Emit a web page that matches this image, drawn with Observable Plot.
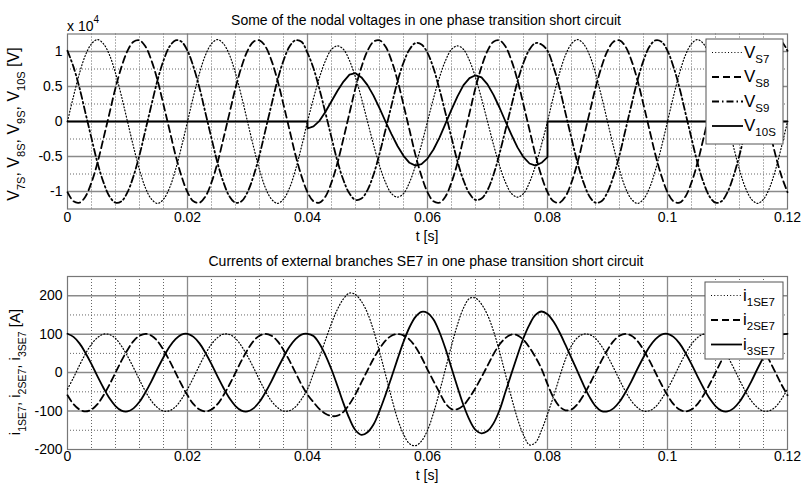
<!DOCTYPE html>
<html><head><meta charset="utf-8">
<script src="https://cdn.jsdelivr.net/npm/d3@7"></script>
<script src="https://cdn.jsdelivr.net/npm/@observablehq/plot@0.6"></script>
<style>
body{margin:0;background:#fff;}
#wrap{position:relative;width:802px;height:484px;overflow:hidden;background:#fff;}
</style></head><body><div id="wrap"></div>
<script>
const FONT = "'Liberation Sans', Arial, Helvetica, sans-serif";

// sample times (ms) 0..120
const tMs = d3.range(0, 121);

// ---- top plot: nodal voltages (x 10^4 V) ----
const vS7 = [
0,0.36,0.69,0.95,1.11,1.17,1.11,0.95,0.69,0.36,0,-0.36,-0.69,-0.95,-1.11,-1.17,-1.11,-0.95,-0.69,-0.36,
0,0.36,0.69,0.95,1.11,1.17,1.11,0.95,0.69,0.36,0,-0.36,-0.69,-0.95,-1.11,-1.17,-1.11,-0.95,-0.69,-0.36,
0,0.33,0.63,0.87,1.03,1.08,1.03,0.87,0.63,0.33,0,-0.33,-0.63,-0.87,-1.03,-1.08,-1.03,-0.87,-0.63,-0.33,
0,0.33,0.63,0.87,1.03,1.08,1.03,0.87,0.63,0.33,0,-0.33,-0.63,-0.87,-1.03,-1.08,-1.03,-0.87,-0.63,-0.33,
0,0.36,0.69,0.95,1.11,1.17,1.11,0.95,0.69,0.36,0,-0.36,-0.69,-0.95,-1.11,-1.17,-1.11,-0.95,-0.69,-0.36,
0,0.36,0.69,0.95,1.11,1.17,1.11,0.95,0.69,0.36,0,-0.36,-0.69,-0.95,-1.11,-1.17,-1.11,-0.95,-0.69,-0.36,
0];
const vS8 = [
-1.01,-1.14,-1.16,-1.07,-0.87,-0.59,-0.24,0.12,0.48,0.78,1.01,1.14,1.16,1.07,0.87,0.59,0.24,-0.12,-0.48,-0.78,
-1.01,-1.14,-1.16,-1.07,-0.87,-0.59,-0.24,0.12,0.48,0.78,1.01,1.14,1.16,1.07,0.87,0.59,0.24,-0.12,-0.48,-0.78,
-1.01,-1.14,-1.16,-1.07,-0.87,-0.59,-0.24,0.12,0.48,0.78,1.01,1.14,1.16,1.07,0.87,0.59,0.24,-0.12,-0.48,-0.78,
-1.01,-1.14,-1.16,-1.07,-0.87,-0.59,-0.24,0.12,0.48,0.78,1.01,1.14,1.16,1.07,0.87,0.59,0.24,-0.12,-0.48,-0.78,
-1.01,-1.14,-1.16,-1.07,-0.87,-0.59,-0.24,0.12,0.48,0.78,1.01,1.14,1.16,1.07,0.87,0.59,0.24,-0.12,-0.48,-0.78,
-1.01,-1.14,-1.16,-1.07,-0.87,-0.59,-0.24,0.12,0.48,0.78,1.01,1.14,1.16,1.07,0.87,0.59,0.24,-0.12,-0.48,-0.78,
-1.01];
const vS9 = [
1.01,0.78,0.48,0.12,-0.24,-0.59,-0.87,-1.07,-1.16,-1.14,-1.01,-0.78,-0.48,-0.12,0.24,0.59,0.87,1.07,1.16,1.14,
1.01,0.78,0.48,0.12,-0.24,-0.59,-0.87,-1.07,-1.16,-1.14,-1.01,-0.78,-0.48,-0.12,0.24,0.59,0.87,1.07,1.16,1.14,
0.98,0.76,0.46,0.12,-0.23,-0.57,-0.84,-1.03,-1.12,-1.10,-0.98,-0.76,-0.46,-0.12,0.23,0.57,0.84,1.03,1.12,1.10,
0.98,0.76,0.46,0.12,-0.23,-0.57,-0.84,-1.03,-1.12,-1.10,-0.98,-0.76,-0.46,-0.12,0.23,0.57,0.84,1.03,1.12,1.10,
1.01,0.78,0.48,0.12,-0.24,-0.59,-0.87,-1.07,-1.16,-1.14,-1.01,-0.78,-0.48,-0.12,0.24,0.59,0.87,1.07,1.16,1.14,
1.01,0.78,0.48,0.12,-0.24,-0.59,-0.87,-1.07,-1.16,-1.14,-1.01,-0.78,-0.48,-0.12,0.24,0.59,0.87,1.07,1.16,1.14,
1.01];
// V10S: zero outside the fault (0.04 s .. 0.08 s)
const v10FaultMs = d3.range(40, 81);
const v10Fault = [-0.10,-0.07,0.01,0.14,0.29,0.44,0.57,0.67,0.69,0.63,0.52,0.37,0.19,0.00,-0.18,-0.35,-0.49,-0.59,-0.63,-0.61,
-0.53,-0.40,-0.23,-0.03,0.17,0.36,0.52,0.62,0.66,0.63,0.53,0.38,0.20,0.00,-0.19,-0.37,-0.51,-0.60,-0.63,-0.59,-0.51];
const v10T = [0, 40, ...v10FaultMs, 80, 120];
const v10V = [0, 0, ...v10Fault, 0, 0];

// ---- bottom plot: currents (A) ----
const i1 = [
-43,-13,19,49,74,91,100,99,89,69,43,13,-19,-49,-74,-91,-100,-99,-89,-69,
-43,-13,19,49,74,91,100,99,89,69,43,13,-19,-49,-74,-91,-100,-99,-89,-69,
-43,-2,40,85,128,165,192,207,203,185,155,110,55,-5,-65,-120,-160,-185,-190,-178,
-150,-105,-50,10,70,125,168,193,194,178,150,108,55,-5,-65,-120,-162,-188,-182,-150,
-108,-62,-12,35,70,91,100,99,89,69,43,13,-19,-49,-74,-91,-100,-99,-89,-69,
-43,-13,19,49,74,91,100,99,89,69,43,13,-19,-49,-74,-91,-100,-99,-89,-69,
-43];
const i2 = [
-59,-82,-96,-101,-96,-82,-59,-31,0,31,59,82,96,101,96,82,59,31,0,-31,
-59,-82,-96,-101,-96,-82,-59,-31,0,31,59,82,96,101,96,82,59,31,0,-31,
-57,-77,-95,-107,-113,-112,-102,-82,-56,-25,6,36,62,83,96,100,97,86,67,40,
8,-22,-52,-80,-95,-95,-85,-65,-40,-12,18,48,73,90,99,97,85,65,40,10,
-30,-65,-88,-98,-96,-82,-59,-31,0,31,59,82,96,101,96,82,59,31,0,-31,
-59,-82,-96,-101,-96,-82,-59,-31,0,31,59,82,96,101,96,82,59,31,0,-31,
-59];
const i3 = [
101,93,76,51,22,-10,-40,-67,-87,-99,-101,-93,-76,-51,-22,10,40,67,87,99,
101,93,76,51,22,-10,-40,-67,-87,-99,-101,-93,-76,-51,-22,10,40,67,87,99,
101,95,75,45,8,-35,-80,-120,-150,-162,-155,-135,-100,-58,-12,35,80,118,145,158,
155,138,105,62,12,-38,-85,-123,-149,-158,-152,-132,-98,-50,-2,45,90,125,150,159,
152,133,105,72,38,3,-32,-63,-87,-100,-101,-93,-76,-51,-22,10,40,67,87,99,
101,93,76,51,22,-10,-40,-67,-87,-99,-101,-93,-76,-51,-22,10,40,67,87,99,
101];

// ---- ticks ----
const xTicks = [0, 0.02, 0.04, 0.06, 0.08, 0.1, 0.12];
const xTickLabels = ["0", "0.02", "0.04", "0.06", "0.08", "0.1", "0.12"];
const topYTicks = [-1, -0.5, 0, 0.5, 1];
const topYTickLabels = ["-1", "-0.5", "0", "0.5", "1"];
const botYTicks = [-200, -100, 0, 100, 200];
const botYTickLabels = ["-200", "-100", "0", "100", "200"];
const topMinorY = [-0.75, -0.25, 0.25, 0.75];
const botMinorY = [-150, -50, 50, 150];
const minorX = d3.range(1, 30).map(k => k * 0.004).filter((d, i) => (i + 1) % 5 !== 0);
const majorXGrid = [0.02, 0.04, 0.06, 0.08, 0.1];

const rows = (vals) => tMs.map((k, i) => ({t: k / 1000, v: vals[i]}));
const v10Rows = v10T.map((k, i) => ({t: k / 1000, v: v10V[i]}));

const STY = {
  dot: {stroke: "#000", strokeWidth: 1.2, strokeDasharray: "1,2.2"},
  dash: {stroke: "#000", strokeWidth: 1.8, strokeDasharray: "7,4"},
  dashdot: {stroke: "#000", strokeWidth: 1.8, strokeDasharray: "7,3,1.5,3"},
  solid: {stroke: "#000", strokeWidth: 1.8}
};

function makePlot(opts) {
  return Plot.plot({
    width: 802, height: opts.height,
    marginLeft: 67, marginRight: 15, marginTop: opts.mt, marginBottom: opts.mb,
    x: {domain: [0, 0.12]},
    y: {domain: opts.yDomain},
    style: {fontFamily: FONT, fontSize: "14px", color: "#000", background: "transparent", overflow: "visible"},
    marks: [
      Plot.ruleX(minorX, {stroke: "#666", strokeWidth: 1, strokeDasharray: "1,2"}),
      Plot.ruleY(opts.minorY, {stroke: "#666", strokeWidth: 1, strokeDasharray: "1,2"}),
      Plot.ruleX(majorXGrid, {stroke: "#8a8a8a", strokeWidth: 1.3}),
      Plot.ruleY(opts.majorY, {stroke: "#8a8a8a", strokeWidth: 1.5}),
      Plot.frame({stroke: "#777", strokeWidth: 1.2}),
      ...opts.lines,
      Plot.axisX({ticks: xTicks, tickFormat: d => xTickLabels[xTicks.indexOf(d)], tickSize: 0, tickPadding: opts.xPad, label: null, fontSize: 14}),
      Plot.axisY({ticks: opts.yTicks, tickFormat: d => opts.yLabels[opts.yTicks.indexOf(d)], tickSize: 0, tickPadding: 5, label: null, anchor: "left", fontSize: 14})
    ]
  });
}

const topPlot = makePlot({
  height: 240, mt: 33.5, mb: 31.5, yDomain: [-1.25, 1.25], xPad: 3,
  minorY: topMinorY, majorY: topYTicks, yTicks: topYTicks, yLabels: topYTickLabels,
  lines: [
    Plot.line(rows(vS7), {x: "t", y: "v", curve: "catmull-rom", ...STY.dot}),
    Plot.line(rows(vS8), {x: "t", y: "v", curve: "catmull-rom", ...STY.dash}),
    Plot.line(rows(vS9), {x: "t", y: "v", curve: "catmull-rom", ...STY.dashdot}),
    Plot.line(v10Rows, {x: "t", y: "v", curve: "linear", ...STY.solid})
  ]
});
const botPlot = makePlot({
  height: 244, mt: 36, mb: 35, yDomain: [-200, 250], xPad: 2,
  minorY: botMinorY, majorY: [-100, 0, 100, 200], yTicks: botYTicks, yLabels: botYTickLabels,
  lines: [
    Plot.line(rows(i1), {x: "t", y: "v", curve: "catmull-rom", ...STY.dot}),
    Plot.line(rows(i2), {x: "t", y: "v", curve: "catmull-rom", ...STY.dash}),
    Plot.line(rows(i3), {x: "t", y: "v", curve: "catmull-rom", ...STY.solid})
  ]
});

const wrap = document.getElementById("wrap");
function place(node, top) {
  const d = document.createElement("div");
  d.style.position = "absolute"; d.style.left = "0px"; d.style.top = top + "px";
  d.appendChild(node); wrap.appendChild(d);
}
place(topPlot, 0);
place(botPlot, 240);

// ---- overlay: titles, axis labels, legends ----
const ov = d3.select(wrap).append("svg")
  .attr("width", 802).attr("height", 484)
  .style("position", "absolute").style("left", "0px").style("top", "0px")
  .attr("font-family", FONT).attr("fill", "#000");

function richText(g, parts, size, subSize, dySub, attrs) {
  const t = g.append("text").attr("font-size", size);
  for (const [k, v] of Object.entries(attrs)) t.attr(k, v);
  let lowered = false;
  for (const [s, isSub] of parts) {
    const sp = t.append("tspan").text(s);
    if (isSub && !lowered) { sp.attr("dy", dySub).attr("font-size", subSize); lowered = true; }
    else if (isSub) { sp.attr("font-size", subSize); }
    else if (!isSub && lowered) { sp.attr("dy", -dySub); lowered = false; }
  }
  return t;
}

ov.append("text").attr("x", 426).attr("y", 25).attr("text-anchor", "middle").attr("font-size", 14)
  .text("Some of the nodal voltages in one phase transition short circuit");
ov.append("text").attr("x", 426).attr("y", 266).attr("text-anchor", "middle").attr("font-size", 14)
  .text("Currents of external branches SE7 in one phase transition short circuit");
ov.append("text").attr("x", 427).attr("y", 241).attr("text-anchor", "middle").attr("font-size", 14).text("t [s]");
ov.append("text").attr("x", 427).attr("y", 480).attr("text-anchor", "middle").attr("font-size", 14).text("t [s]");
// exponent
const ex = ov.append("text").attr("x", 67).attr("y", 31).attr("font-size", 14);
ex.append("tspan").text("x 10");
ex.append("tspan").attr("dy", -8).attr("font-size", 10).text("4");

// y labels
richText(ov, [["V", false], ["7S", true], [", V", false], ["8S", true], [", V", false], ["9S", true], [", V", false], ["10S", true], [" [V]", false]],
  16, 11, 6, {transform: "translate(19,124) rotate(-90)", "text-anchor": "middle"});
richText(ov, [["i", false], ["1SE7", true], [", i", false], ["2SE7", true], [", i", false], ["3SE7", true], [" [A]", false]],
  15, 10.5, 6, {transform: "translate(20,372) rotate(-90)", "text-anchor": "middle"});

// legends
function legend(x0, y0, w, h, rowsDef, mainSize, subSize) {
  const g = ov.append("g");
  g.append("rect").attr("x", x0).attr("y", y0).attr("width", w).attr("height", h)
    .attr("fill", "#fff").attr("stroke", "#555").attr("stroke-width", 1);
  rowsDef.forEach((r, i) => {
    const yc = y0 + 13.5 + i * 24.5;
    const ln = g.append("line").attr("x1", x0 + 6).attr("x2", x0 + 37).attr("y1", yc).attr("y2", yc)
      .attr("stroke", "#000").attr("stroke-width", r.sty.strokeWidth);
    if (r.sty.strokeDasharray) ln.attr("stroke-dasharray", r.sty.strokeDasharray);
    richText(g, [[r.main, false], [r.sub, true]], mainSize, subSize, 5, {x: x0 + 38, y: yc + 5});
  });
}
legend(706, 39, 77, 105, [
  {main: "V", sub: "S7", sty: STY.dot},
  {main: "V", sub: "S8", sty: STY.dash},
  {main: "V", sub: "S9", sty: STY.dashdot},
  {main: "V", sub: "10S", sty: STY.solid}
], 17, 11.5);
legend(705, 282, 78, 77, [
  {main: "i", sub: "1SE7", sty: STY.dot},
  {main: "i", sub: "2SE7", sty: STY.dash},
  {main: "i", sub: "3SE7", sty: STY.solid}
], 17, 11.5);
</script>
</body></html>
